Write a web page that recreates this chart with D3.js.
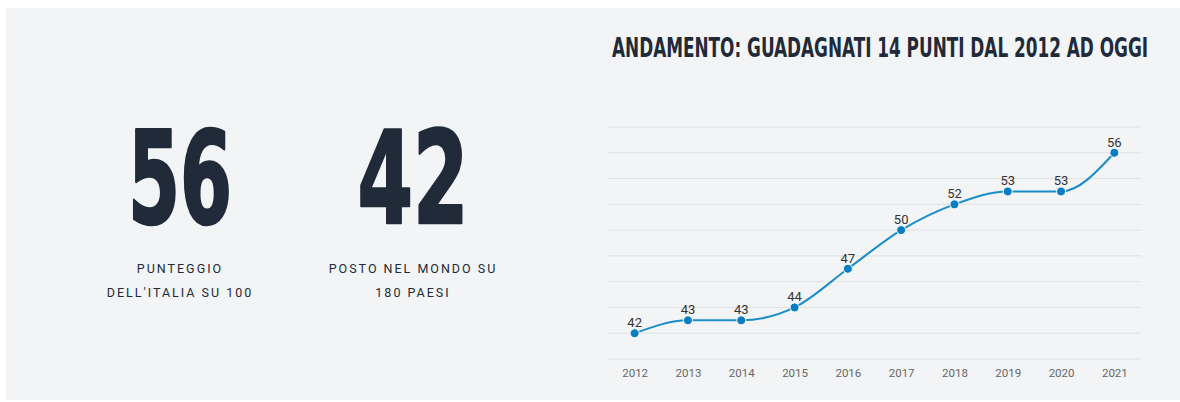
<!DOCTYPE html>
<html>
<head>
<meta charset="utf-8">
<script src="https://cdn.jsdelivr.net/npm/d3@7"></script>
<style>
  html, body { margin: 0; padding: 0; background: #fff; }
  svg { display: block; }
</style>
</head>
<body>
<svg id="chart" width="1180" height="402"></svg>
<script>
// data
var years = ["2012", "2013", "2014", "2015", "2016", "2017", "2018", "2019", "2020", "2021"];
var scores = [42, 43, 43, 44, 47, 50, 52, 53, 53, 56];
var yTicks = [40, 42, 44, 46, 48, 50, 52, 54, 56, 58];
var bigNumbers = ["56", "42"];
var bigLabels = [["PUNTEGGIO", "DELL'ITALIA SU 100"], ["POSTO NEL MONDO SU", "180 PAESI"]];
var title = "ANDAMENTO: GUADAGNATI 14 PUNTI DAL 2012 AD OGGI";

var svg = d3.select("#chart");
var dark = "#212a39";
var condensed = "'Liberation Sans Narrow', 'DejaVu Sans Condensed', sans-serif";

// panel background
svg.append("rect")
    .attr("x", 6).attr("y", 8)
    .attr("width", 1174).attr("height", 392)
    .attr("fill", "#f3f4f6");

// big numbers + labels
var bigX = [180, 413];
bigNumbers.forEach(function (n, i) {
    svg.append("text")
        .attr("x", bigX[i]).attr("y", 223)
        .attr("text-anchor", "middle")
        .attr("font-family", condensed)
        .attr("font-weight", "bold")
        .attr("font-size", 128)
        .attr("fill", dark)
        .attr("stroke", dark)
        .attr("stroke-width", 2.5)
        .attr("stroke-linejoin", "round")
        .attr("textLength", i == 0 ? 104 : 111)
        .attr("lengthAdjust", "spacingAndGlyphs")
        .text(n);
    bigLabels[i].forEach(function (l, j) {
        svg.append("text")
            .attr("x", bigX[i]).attr("y", 273 + j * 24)
            .attr("text-anchor", "middle")
            .attr("font-family", "Roboto, sans-serif")
            .attr("font-size", 12.5)
            .attr("letter-spacing", 2)
            .attr("fill", dark)
            .text(l);
    });
});

// title
svg.append("text")
    .attr("x", 612).attr("y", 57)
    .attr("font-family", condensed)
    .attr("font-weight", "bold")
    .attr("font-size", 27)
    .attr("fill", dark)
    .attr("textLength", 536)
    .attr("lengthAdjust", "spacingAndGlyphs")
    .text(title);

// line chart
var margin = {left: 608, right: 1141, top: 127, bottom: 359};
var x = d3.scalePoint().domain(years).range([margin.left, margin.right]).padding(0.5);
var y = d3.scaleLinear().domain([40, 58]).range([margin.bottom, margin.top]);

var g = svg.append("g");

g.selectAll(".grid")
    .data(yTicks)
    .enter().append("line")
    .attr("class", "grid")
    .attr("x1", margin.left).attr("x2", margin.right)
    .attr("y1", function (d) { return y(d); })
    .attr("y2", function (d) { return y(d); })
    .attr("stroke", "#e0e1e4")
    .attr("stroke-width", 1);

var xAxis = g.append("g")
    .attr("transform", "translate(0," + (margin.bottom + 4) + ")")
    .call(d3.axisBottom(x).tickSize(0).tickPadding(6));
xAxis.select(".domain").remove();
xAxis.selectAll("text")
    .attr("font-family", "Roboto, sans-serif")
    .attr("font-size", 11.5)
    .attr("fill", "#666");

var line = d3.line()
    .x(function (d, i) { return x(years[i]); })
    .y(function (d) { return y(d); })
    .curve(d3.curveMonotoneX);

g.append("path")
    .datum(scores)
    .attr("d", line)
    .attr("fill", "none")
    .attr("stroke", "#1b8dc9")
    .attr("stroke-width", 2);

g.selectAll(".dot")
    .data(scores)
    .enter().append("circle")
    .attr("class", "dot")
    .attr("cx", function (d, i) { return x(years[i]); })
    .attr("cy", function (d) { return y(d); })
    .attr("r", 4.5)
    .attr("fill", "#0a7dc2")
    .attr("stroke", "#fff")
    .attr("stroke-width", 1);

g.selectAll(".lbl")
    .data(scores)
    .enter().append("text")
    .attr("class", "lbl")
    .attr("x", function (d, i) { return x(years[i]); })
    .attr("y", function (d) { return y(d) - 6; })
    .attr("text-anchor", "middle")
    .attr("font-family", "Roboto, sans-serif")
    .attr("font-size", 13)
    .attr("fill", "#333")
    .text(function (d) { return d; });
</script>
</body>
</html>
